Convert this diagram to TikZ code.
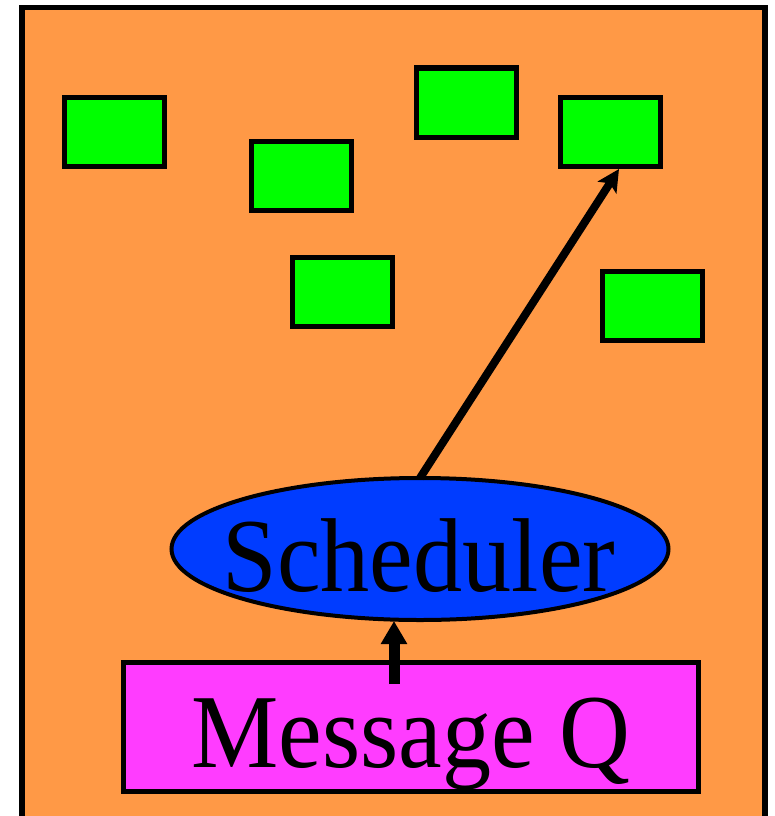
\documentclass[tikz,border=0pt]{standalone}
\usepackage{fontspec}
\setmainfont{Liberation Serif}
\usetikzlibrary{arrows.meta,shapes.geometric}
\definecolor{bgorange}{RGB}{255,153,70}
\definecolor{taskgreen}{RGB}{0,255,0}
\definecolor{schedblue}{RGB}{0,60,255}
\definecolor{queuemag}{RGB}{255,60,255}
\tikzset{
  task/.style={draw=black, line width=5pt, fill=taskgreen, minimum width=100pt, minimum height=69pt, inner sep=0pt},
  bigtext/.style={font=\fontsize{105}{105}\selectfont, xscale=0.935, transform shape, inner sep=0pt, anchor=base},
  dispatch/.style={line width=8pt, -{Stealth[length=22pt,width=22pt,inset=5pt]}},
  feed/.style={line width=11pt, -{Triangle[length=23pt,width=25pt]}}
}
\begin{document}
\begin{tikzpicture}[x=1pt,y=-1pt]
\useasboundingbox (0,0) rectangle (775,816);
% container
\draw[line width=5.5pt, fill=bgorange] (22,7.5) -- (22,830) -- (765,830) -- (765,7.5) -- cycle;
% tasks
\node[task] (t1) at (114.5,132) {};
\node[task] (t2) at (301,175.5) {};
\node[task] (t3) at (466,102.5) {};
\node[task] (t4) at (610.5,132) {};
\node[task] (t5) at (342,292) {};
\node[task] (t6) at (652.5,306) {};
% scheduler
\node[ellipse, draw=black, line width=4pt, fill=schedblue, minimum width=497pt, minimum height=142pt, inner sep=0pt] (sched) at (420,549) {};
\node[bigtext] (schedtxt) at (419,591) {Scheduler};
% message queue
\node[draw=black, line width=5pt, fill=queuemag, minimum width=575pt, minimum height=129pt, inner sep=0pt] (mq) at (410.5,726.5) {};
\node[bigtext] (mqtxt) at (411,767) {Message Q};
% connectors
\coordinate (mqtop) at (394,684);
\coordinate (schedbase) at (394,621);
\coordinate (t4foot) at (619,169);
\draw[dispatch] (sched.north) ++(0,2) -- (t4foot);
\draw[feed] (mqtop) -- (schedbase);
\end{tikzpicture}
\end{document}
